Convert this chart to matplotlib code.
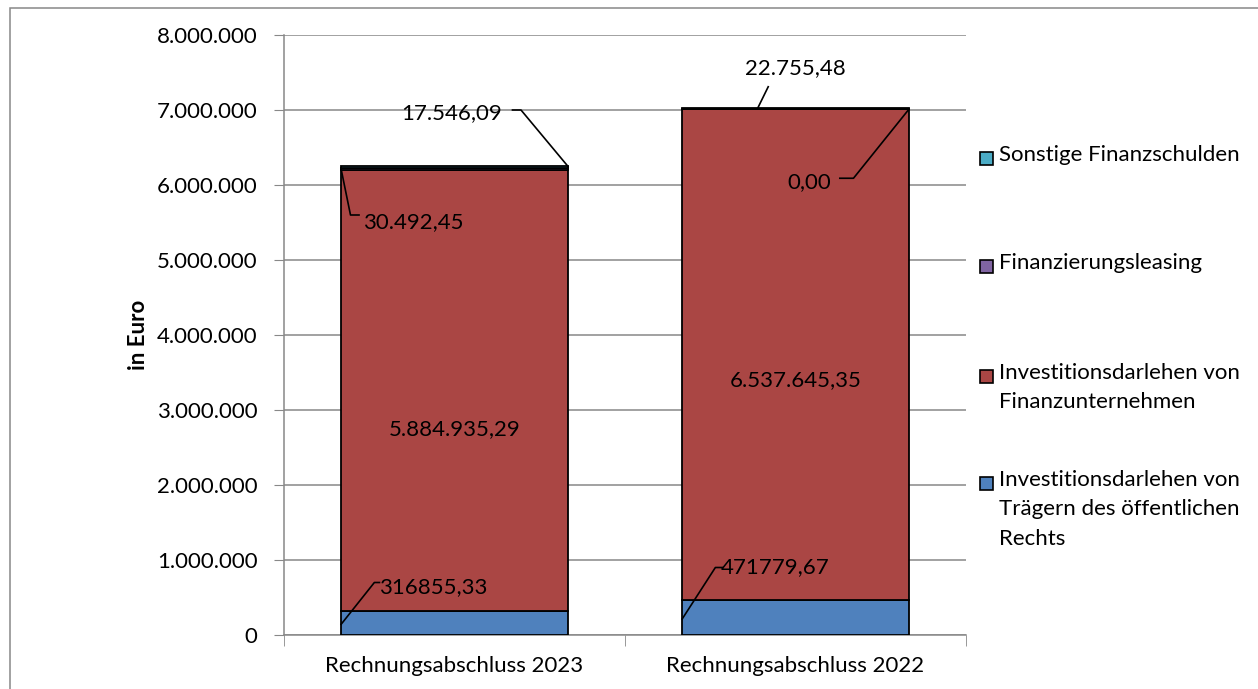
import matplotlib.pyplot as plt
from matplotlib.patches import Rectangle
import numpy as np

# Daten
kategorien = ["Rechnungsabschluss 2023", "Rechnungsabschluss 2022"]
traeger = [316855.33, 471779.67]
finanzunternehmen = [5884935.29, 6537645.35]
leasing = [30492.45, 0.00]
sonstige = [17546.09, 22755.48]

serien = ["Investitionsdarlehen von\nTrägern des öffentlichen\nRechts",
          "Investitionsdarlehen von\nFinanzunternehmen",
          "Finanzierungsleasing",
          "Sonstige Finanzschulden"]
farben = ["#4F81BD", "#AA4644", "#8064A2", "#4BACC6"]

yticks = np.arange(0, 8000001, 1000000)
ytick_labels = ["0", "1.000.000", "2.000.000", "3.000.000", "4.000.000",
                "5.000.000", "6.000.000", "7.000.000", "8.000.000"]

plt.rcParams['font.family'] = ['Lato', 'DejaVu Sans']
fs = 16

W, H = 1258, 689
fig = plt.figure(figsize=(W / 100, H / 100), dpi=100)
ax = fig.add_axes([284 / W, (H - 635) / H, (966 - 284) / W, 600 / H])

x = np.arange(len(kategorien))
breite = 0.665
werte = [traeger, finanzunternehmen, leasing, sonstige]
unten = np.zeros(len(kategorien))
for w, f in zip(werte, farben):
    ax.bar(x, w, breite, bottom=unten, color=f, edgecolor="black", linewidth=1.3, zorder=3)
    unten = unten + np.array(w)

ax.set_xlim(-0.5, 1.5)
ax.set_ylim(0, 8000000)
ax.set_yticks(yticks)
ax.set_yticklabels(ytick_labels, fontsize=fs)
ax.set_xticks(x)
ax.set_xticklabels(kategorien, fontsize=fs)
ax.set_xticks([-0.5, 0.5, 1.5], minor=True)
ax.tick_params(axis="x", which="major", length=0, pad=15)
ax.tick_params(axis="x", which="minor", length=8, color="#888888")
ax.tick_params(axis="y", length=7, color="#888888", pad=12)
ax.grid(axis="y", color="#888888", linewidth=1.1, zorder=0)
for s in ["top", "right"]:
    ax.spines[s].set_visible(False)
for s in ["left", "bottom"]:
    ax.spines[s].set_color("#888888")
    ax.spines[s].set_linewidth(1.1)
ax.set_ylabel("in Euro", fontsize=fs, fontweight="bold", labelpad=5.5)

# Datenbeschriftungen mit Führungslinien
links = x - breite / 2
rechts = x + breite / 2
kum1 = np.array(traeger)
kum2 = kum1 + np.array(finanzunternehmen)
kum3 = kum2 + np.array(leasing)
kum4 = kum3 + np.array(sonstige)

def fmt(v):
    s = f"{v:,.2f}"
    return s.replace(",", "X").replace(".", ",").replace("X", ".")

def leader(p0, knick, ende, text, tpos, ha):
    ax.plot([p0[0], knick[0], ende[0]], [p0[1], knick[1], ende[1]],
            color="black", linewidth=1.2, zorder=5, clip_on=False)
    ax.text(tpos[0], tpos[1], text, fontsize=fs, ha=ha, va="center", zorder=6)

# untere Segmente
leader((links[0], kum1[0] * 0.45), (-0.235, 700000), (-0.22, 700000),
       "316855,33", (-0.222, 640000), "left")
leader((links[1], kum1[1] * 0.45), (0.765, 900000), (0.785, 900000),
       "471779,67", (0.782, 907000), "left")
# mittlere Segmente
ax.text(x[0], traeger[0] + finanzunternehmen[0] / 2 - 520000, fmt(finanzunternehmen[0]),
        fontsize=fs, ha="center", va="center", zorder=6)
ax.text(x[1], traeger[1] + finanzunternehmen[1] / 2 - 340000, fmt(finanzunternehmen[1]),
        fontsize=fs, ha="center", va="center", zorder=6)
# Finanzierungsleasing
leader((links[0], kum3[0] - 20000), (-0.305, 5600000), (-0.28, 5600000),
       fmt(leasing[0]), (-0.268, 5507000), "left")
leader((rechts[1], kum3[1]), (1.17, 6090000), (1.13, 6090000),
       fmt(leasing[1]), (1.105, 6040000), "right")
# Sonstige
leader((rechts[0], kum4[0]), (0.195, 7000000), (0.17, 7000000),
       fmt(sonstige[0]), (0.14, 6960000), "right")
leader((0.89, kum4[1]), (0.92, 7310000), (0.92, 7310000),
       fmt(sonstige[1]), (1.0, 7560000), "center")

# Legende
leg_y = [158, 266, 376, 483]
for name, f, yy in zip(serien[::-1], farben[::-1], leg_y):
    fig.patches.append(Rectangle((980 / W, (H - yy - 7) / H), 13 / W, 13 / H,
                                 transform=fig.transFigure, facecolor=f,
                                 edgecolor="black", linewidth=1.2))
    fig.text(999 / W, (H - yy + 13) / H, name, fontsize=fs, va="top", ha="left",
             linespacing=1.58, transform=fig.transFigure)

# äußerer Rahmen
fig.patches.append(Rectangle((10 / W, -0.1), 1.1, (H - 8) / H + 0.1,
                             transform=fig.transFigure, fill=False,
                             edgecolor="#888888", linewidth=1.1))

fig.savefig("out.png", dpi=100)
